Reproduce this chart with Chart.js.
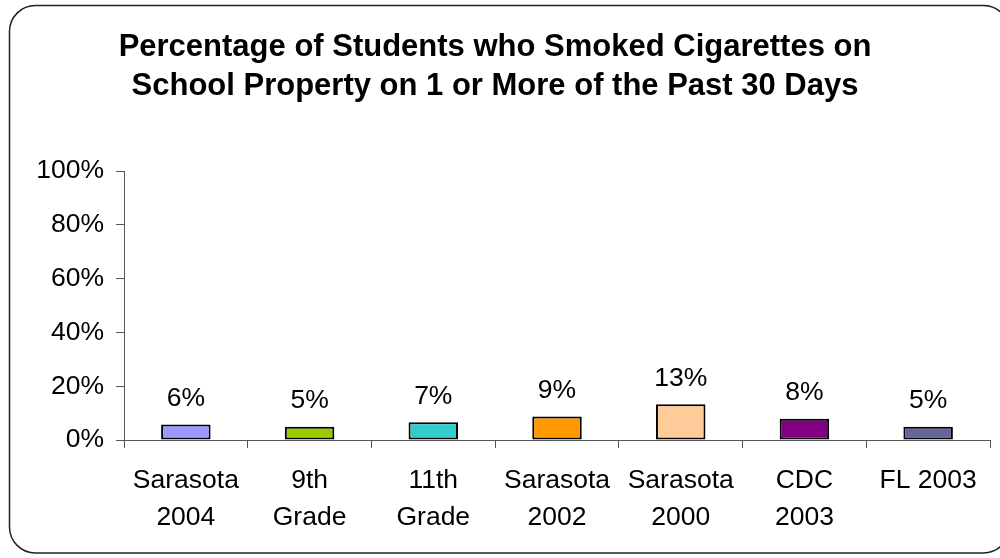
<!DOCTYPE html>
<html lang="en">
<head>
  <meta charset="UTF-8" />
  <title>Smoking on School Property</title>
  <script src="https://cdn.jsdelivr.net/npm/chart.js"></script>
  <style>
    body {
      margin: 0;
      background: #fff;
    }
    canvas {
      display: block;
    }
  </style>
</head>
<body>
  <canvas id="chart" width="1000" height="558"></canvas>

  <script>
    const categories = [
      ['Sarasota', '2004'],
      ['9th', 'Grade'],
      ['11th', 'Grade'],
      ['Sarasota', '2002'],
      ['Sarasota', '2000'],
      ['CDC', '2003'],
      ['FL 2003']
    ];
    const percentages = [5.8, 4.9, 6.6, 8.7, 13.3, 7.9, 4.9];
    const barColors = ['#9999FF', '#99CC00', '#33CCCC', '#FF9900', '#FFCC99', '#800080', '#666699'];
    const yTicks = [0, 20, 40, 60, 80, 100];

    const FONT = "'Liberation Sans', Arial, sans-serif";

    // rounded frame around the whole chart
    const framePlugin = {
      id: 'frame',
      beforeDraw(chart) {
        const ctx = chart.ctx;
        ctx.save();
        ctx.fillStyle = '#fff';
        ctx.fillRect(0, 0, chart.width, chart.height);
        ctx.strokeStyle = '#222';
        ctx.lineWidth = 1.5;
        ctx.beginPath();
        ctx.roundRect(9.5, 5.5, 1000, 547.5, 26);
        ctx.stroke();
        ctx.restore();
      }
    };

    // percentage labels above each bar
    const valueLabels = {
      id: 'valueLabels',
      afterDatasetsDraw(chart) {
        const ctx = chart.ctx;
        const meta = chart.getDatasetMeta(0);
        ctx.save();
        ctx.font = '26.5px ' + FONT;
        ctx.fillStyle = '#000';
        ctx.textAlign = 'center';
        ctx.textBaseline = 'middle';
        meta.data.forEach((bar, i) => {
          ctx.fillText(Math.round(percentages[i]) + '%', bar.x, bar.y - 26);
        });
        ctx.restore();
      }
    };

    new Chart(document.getElementById('chart'), {
      type: 'bar',
      data: {
        labels: categories,
        datasets: [{
          data: percentages,
          backgroundColor: barColors,
          borderColor: '#000',
          borderWidth: 2,
          borderSkipped: false,
          barPercentage: 0.4,
          categoryPercentage: 1
        }]
      },
      options: {
        responsive: false,
        animation: false,
        layout: { padding: { left: 0, right: 10, top: 0, bottom: 0 } },
        plugins: {
          legend: { display: false },
          tooltip: { enabled: false },
          title: {
            display: true,
            text: ['Percentage of Students who Smoked Cigarettes on', 'School Property on 1 or More of the Past 30 Days'],
            color: '#000',
            font: { family: FONT, size: 31, weight: 'bold', lineHeight: 39 / 31 },
            padding: { top: 28, bottom: 65 }
          }
        },
        scales: {
          x: {
            afterFit(scale) { scale.height = 118; },
            border: { display: true, color: '#555', width: 1 },
            grid: { drawOnChartArea: false, drawTicks: true, tickLength: 8, color: '#555' },
            ticks: {
              color: '#000',
              padding: 14,
              maxRotation: 0,
              autoSkip: false,
              font: { family: FONT, size: 26.5, lineHeight: 37 / 26.5 }
            }
          },
          y: {
            min: 0,
            max: 100,
            afterFit(scale) { scale.width = 124; },
            afterBuildTicks(scale) { scale.ticks = yTicks.map(v => ({ value: v })); },
            border: { display: true, color: '#555', width: 1 },
            grid: { drawOnChartArea: false, drawTicks: true, tickLength: 8, color: '#555' },
            ticks: {
              color: '#000',
              padding: 12,
              font: { family: FONT, size: 26.5 },
              callback: v => v + '%'
            }
          }
        }
      },
      plugins: [framePlugin, valueLabels]
    });
  </script>
</body>
</html>
